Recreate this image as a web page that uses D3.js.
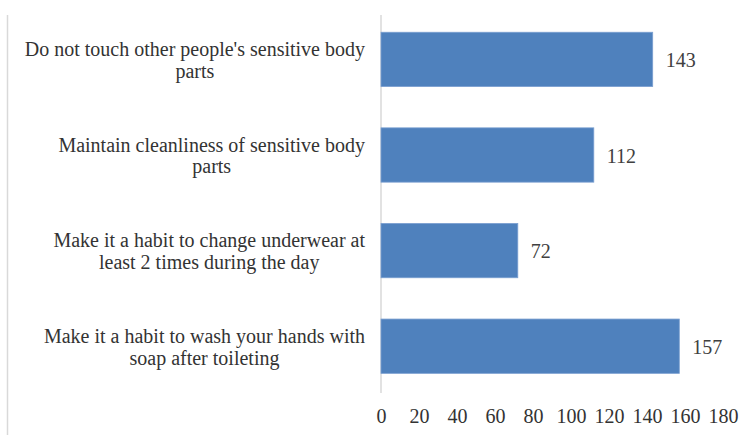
<!DOCTYPE html>
<html>
<head>
<meta charset="utf-8">
<script src="https://cdn.jsdelivr.net/npm/d3@7"></script>
<style>
  html, body { margin: 0; padding: 0; background: #fff; }
  svg { display: block; }
  text { font-family: "Liberation Serif", "Times New Roman", serif; }
</style>
</head>
<body>
<svg id="chart" width="753" height="435"></svg>
<script>
// ---- Data ----
const categories = [
  ["Do not touch other people's sensitive body", "parts"],
  ["Maintain cleanliness of sensitive body", "parts"],
  ["Make it a habit to change underwear at", "least 2 times during the day"],
  ["Make it a habit to wash your hands with", "soap after toileting"]
];
const values = [143, 112, 72, 157];
const tickValues = [0, 20, 40, 60, 80, 100, 120, 140, 160, 180];

// ---- Layout ----
const W = 753, H = 435;
const plotLeft = 381, plotRight = 723;
const bandTop = 11.6, bandBottom = 394;
const axisTop = 15, axisBottom = 393;
const labelRight = 365;
const fontSize = 20;
const lineH = 21.6;

const svg = d3.select("#chart");

const keys = categories.map((c, i) => "c" + i);
const x = d3.scaleLinear().domain([0, 180]).range([plotLeft, plotRight]);
const y = d3.scaleBand().domain(keys).range([bandTop, bandBottom])
  .paddingInner(0.432).paddingOuter(0.216);

// left frame line
svg.append("line")
  .attr("x1", 7.5).attr("x2", 7.5).attr("y1", 15).attr("y2", H)
  .attr("stroke", "#d9d9d9").attr("stroke-width", 1.5);

// vertical category axis line
svg.append("line")
  .attr("x1", x(0)).attr("x2", x(0)).attr("y1", axisTop).attr("y2", axisBottom)
  .attr("stroke", "#d9d9d9").attr("stroke-width", 1.5);

// bars
svg.append("g").selectAll("rect")
  .data(values)
  .join("rect")
  .attr("x", x(0))
  .attr("y", (d, i) => y(keys[i]))
  .attr("width", d => x(d) - x(0))
  .attr("height", y.bandwidth())
  .attr("fill", "#4F81BD")
  .attr("stroke", "#7a9fd0")
  .attr("stroke-width", 0.8);

// data labels
svg.append("g").selectAll("text")
  .data(values)
  .join("text")
  .attr("x", d => x(d) + 13)
  .attr("y", (d, i) => y(keys[i]) + y.bandwidth() / 2 + 7.7)
  .attr("font-size", fontSize)
  .attr("fill", "#404040")
  .text(d => d);

// category labels (right-aligned block, lines centered within block)
const catG = svg.append("g");
categories.forEach((lines, i) => {
  const cy = y(keys[i]) + y.bandwidth() / 2;
  const g = catG.append("g");
  const texts = lines.map((ln, j) =>
    g.append("text")
      .attr("font-size", fontSize)
      .attr("fill", "#333333")
      .attr("y", cy + (j - (lines.length - 1) / 2) * lineH + 7.5)
      .text(ln)
  );
  const maxW = d3.max(texts, t => t.node().getComputedTextLength());
  texts.forEach(t => t.attr("text-anchor", "middle").attr("x", labelRight - maxW / 2));
});

// x axis tick labels
const xAxis = d3.axisBottom(x).tickValues(tickValues).tickSize(0).tickPadding(0).tickFormat(d3.format("d"));
const ax = svg.append("g").attr("transform", `translate(0, ${axisBottom + 16})`).call(xAxis);
ax.select(".domain").remove();
ax.selectAll("text")
  .attr("font-size", fontSize)
  .attr("font-family", "Liberation Serif, Times New Roman, serif")
  .attr("fill", "#333333");
</script>
</body>
</html>
